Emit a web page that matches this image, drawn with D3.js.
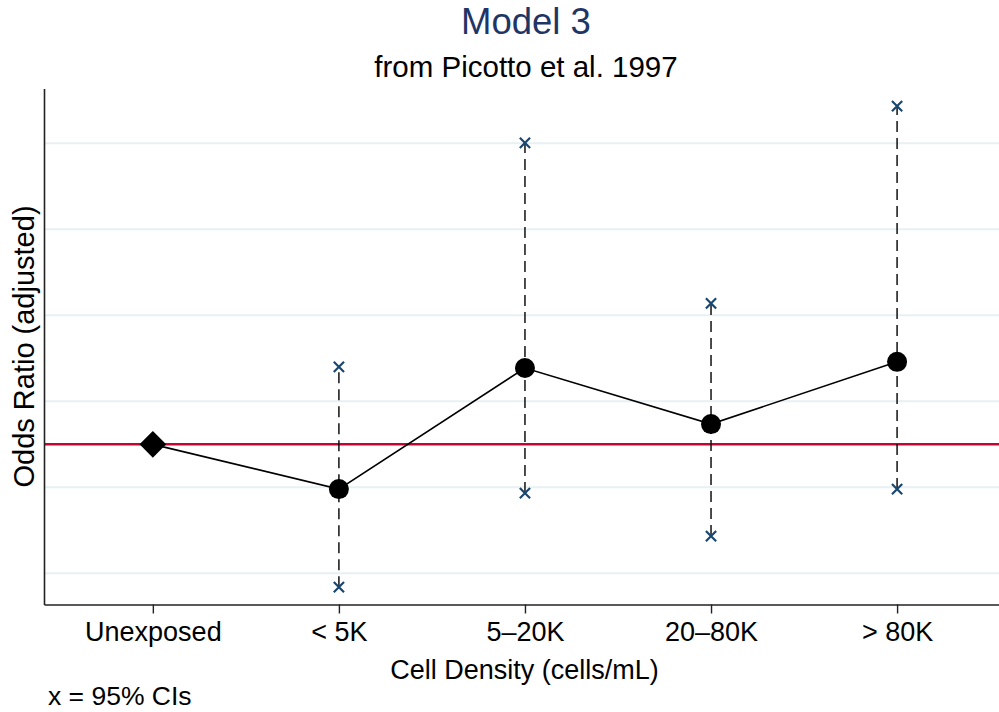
<!DOCTYPE html>
<html>
<head>
<meta charset="utf-8">
<title>Model 3</title>
<style>
  body { margin: 0; background: #fff; }
  text { font-family: "Liberation Sans", Arial, Helvetica, sans-serif; fill: #000; }
  .title { font-size: 36.5px; fill: #1f3566; }
  .subtitle { font-size: 29.5px; }
  .tick text { font-size: 27px; }
  .x-title { font-size: 27px; }
  .y-title { font-size: 29px; }
  .note { font-size: 26.5px; }
</style>
</head>
<body>
<script src="https://d3js.org/d3.v7.min.js"></script>
<script>
// categories along the x axis
var categories = ["Unexposed", "< 5K", "5\u201320K", "20\u201380K", "> 80K"];
// odds ratio point estimates (Unexposed is the reference = 1)
var oddsRatio = [1.0, 0.74, 1.444, 1.118, 1.48];
// 95% CI bounds (none for the reference group)
var ciLow  = [null, 0.17, 0.717, 0.467, 0.74];
var ciHigh = [null, 1.451, 2.753, 1.82, 2.967];
// horizontal grid lines
var gridValues = [0.25, 0.75, 1.25, 1.75, 2.25, 2.75];
var refLine = 1;

var width = 999, height = 712;

var svg = d3.select("body").append("svg")
    .attr("width", width)
    .attr("height", height);

var x = d3.scaleLinear()
    .domain([-0.585, 4.58])
    .range([44, 1005]);

var y = d3.scaleLinear()
    .domain([0.069, 3.069])
    .range([604.5, 88.5]);

// grid lines
svg.append("g")
    .selectAll("line")
    .data(gridValues)
    .enter().append("line")
    .attr("x1", x.range()[0])
    .attr("x2", x.range()[1])
    .attr("y1", function(d) { return y(d); })
    .attr("y2", function(d) { return y(d); })
    .attr("stroke", "#e8f1f2")
    .attr("stroke-width", 2);

// reference line at OR = 1
svg.append("line")
    .attr("x1", x.range()[0])
    .attr("x2", x.range()[1])
    .attr("y1", y(refLine))
    .attr("y2", y(refLine))
    .attr("stroke", "#c10534")
    .attr("stroke-width", 2.5);

// x axis
var xAxis = d3.axisBottom(x)
    .tickValues(d3.range(categories.length))
    .tickFormat(function(i) { return categories[i]; })
    .tickSize(9)
    .tickSizeOuter(0)
    .tickPadding(8);

var gx = svg.append("g")
    .attr("transform", "translate(0," + y.range()[0] + ")")
    .call(xAxis);
gx.select(".domain").attr("stroke", "#222").attr("stroke-width", 1.6);
gx.selectAll(".tick line").attr("stroke", "#222").attr("stroke-width", 1.4);
gx.selectAll(".tick text").attr("fill", "#000");

// y axis (line only, no labels)
var yAxis = d3.axisLeft(y).tickValues([]).tickSizeOuter(0);
var gy = svg.append("g")
    .attr("transform", "translate(" + x.range()[0] + ",0)")
    .call(yAxis);
gy.select(".domain").attr("stroke", "#222").attr("stroke-width", 1.6);

// CI dashed whiskers
var ciIdx = d3.range(categories.length).filter(function(i) { return ciLow[i] !== null; });

svg.append("g")
    .selectAll("line")
    .data(ciIdx)
    .enter().append("line")
    .attr("x1", function(i) { return x(i); })
    .attr("x2", function(i) { return x(i); })
    .attr("y1", function(i) { return y(ciLow[i]); })
    .attr("y2", function(i) { return y(ciHigh[i]); })
    .attr("stroke", "#111")
    .attr("stroke-width", 1.5)
    .attr("stroke-dasharray", "11,6");

// CI end markers (x)
var xSym = d3.symbol().type(d3.symbolX).size(70);
var ends = [];
ciIdx.forEach(function(i) {
    ends.push({ i: i, v: ciLow[i] });
    ends.push({ i: i, v: ciHigh[i] });
});
svg.append("g")
    .selectAll("path")
    .data(ends)
    .enter().append("path")
    .attr("d", xSym)
    .attr("transform", function(d) { return "translate(" + x(d.i) + "," + y(d.v) + ")"; })
    .attr("fill", "none")
    .attr("stroke", "#1a476f")
    .attr("stroke-width", 2.2);

// connecting line
var line = d3.line()
    .x(function(d, i) { return x(i); })
    .y(function(d) { return y(d); });

svg.append("path")
    .datum(oddsRatio)
    .attr("d", line)
    .attr("fill", "none")
    .attr("stroke", "#000")
    .attr("stroke-width", 1.6);

// reference marker: diamond
svg.append("path")
    .attr("d", d3.symbol().type(d3.symbolSquare).size(354)())
    .attr("transform", "translate(" + x(0) + "," + y(oddsRatio[0]) + ") rotate(45)")
    .attr("fill", "#000");

// exposed groups: filled circles
svg.append("g")
    .selectAll("circle")
    .data(oddsRatio.slice(1))
    .enter().append("circle")
    .attr("cx", function(d, i) { return x(i + 1); })
    .attr("cy", function(d) { return y(d); })
    .attr("r", 10)
    .attr("fill", "#000");

// titles
svg.append("text")
    .attr("class", "title")
    .attr("x", 526)
    .attr("y", 34)
    .attr("text-anchor", "middle")
    .text("Model 3");

svg.append("text")
    .attr("class", "subtitle")
    .attr("x", 526)
    .attr("y", 77)
    .attr("text-anchor", "middle")
    .text("from Picotto et al. 1997");

svg.append("text")
    .attr("class", "x-title")
    .attr("x", (x.range()[0] + x.range()[1]) / 2)
    .attr("y", 679)
    .attr("text-anchor", "middle")
    .text("Cell Density (cells/mL)");

svg.append("text")
    .attr("class", "y-title")
    .attr("transform", "translate(34," + (y.range()[0] + y.range()[1]) / 2 + ") rotate(-90)")
    .attr("text-anchor", "middle")
    .text("Odds Ratio (adjusted)");

svg.append("text")
    .attr("class", "note")
    .attr("x", 48)
    .attr("y", 705)
    .text("x = 95% CIs");
</script>
</body>
</html>
